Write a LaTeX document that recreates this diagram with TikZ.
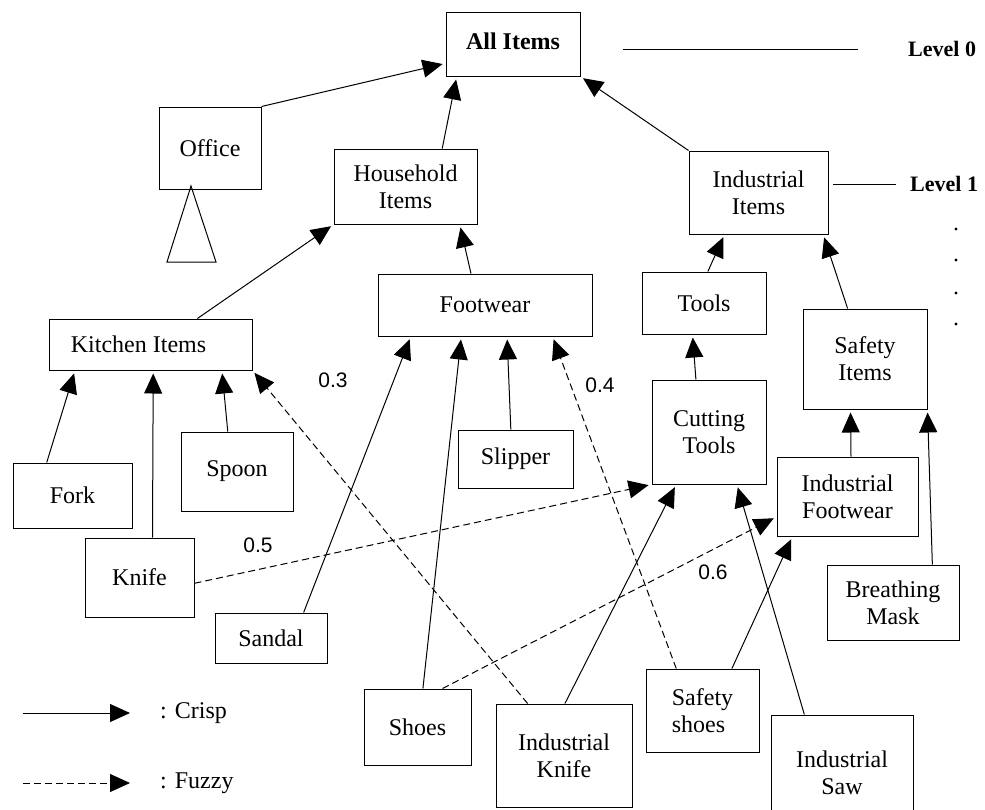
\documentclass[tikz,border=0pt]{standalone}
\usepackage{fontspec}
\setmainfont{Liberation Serif}
\newfontfamily\numfont{Liberation Sans}
\usetikzlibrary{arrows.meta}

\begin{document}
\begin{tikzpicture}[x=1pt, y=-1pt]
	\tikzset{
		itembox/.style={rectangle, draw, line width=1pt, inner sep=2pt, align=center, font=\fontsize{24}{27}\selectfont},
		crisp/.style={line width=1pt, -{Triangle[length=20pt,width=18pt]}, shorten >=3pt},
		fuzzy/.style={crisp, dash pattern=on 7pt off 4pt},
		grade/.style={font=\numfont\fontsize{21}{24}\selectfont},
		levellabel/.style={anchor=west, inner sep=0pt, font=\bfseries\fontsize{22}{26}\selectfont},
		legendlabel/.style={anchor=west, inner sep=0pt, font=\fontsize{24}{27}\selectfont}
	}
	\useasboundingbox (0,0) rectangle (985,809);

	% Level 0 and level 1
	\node[itembox, minimum width=134pt, minimum height=64pt] (allitems) at (513,44) {\raisebox{6pt}{\textbf{All Items}}};
	\node[itembox, minimum width=102pt, minimum height=82pt] (office) at (210,148) {Office};
	\node[itembox, minimum width=143pt, minimum height=75pt] (household) at (405.5,186.5) {Household\\Items};
	\node[itembox, minimum width=139pt, minimum height=83pt] (industrial) at (758.5,192.5) {Industrial\\Items};

	% Sub categories
	\node[itembox, minimum width=214pt, minimum height=62pt] (footwear) at (485,305) {Footwear};
	\node[itembox, minimum width=124pt, minimum height=62pt] (tools) at (704,303) {Tools};
	\node[itembox, minimum width=203pt, minimum height=51pt] (kitchen) at (150.5,344.5) {Kitchen Items\hspace*{24pt}};
	\node[itembox, minimum width=124pt, minimum height=100pt] (safety) at (865,359) {Safety\\Items};
	\node[itembox, minimum width=114pt, minimum height=104pt] (cutting) at (709,432) {Cutting\\Tools};
	\node[itembox, minimum width=141pt, minimum height=79pt] (indfootwear) at (847.5,496.5) {Industrial\\Footwear};

	% Items
	\node[itembox, minimum width=119pt, minimum height=65pt] (fork) at (72.5,495.5) {\raisebox{-9pt}{Fork}};
	\node[itembox, minimum width=112pt, minimum height=79pt] (spoon) at (237,471.5) {Spoon};
	\node[itembox, minimum width=109pt, minimum height=79pt] (knife) at (139.5,577.5) {Knife};
	\node[itembox, minimum width=112pt, minimum height=50pt] (sandal) at (271,638) {Sandal};
	\node[itembox, minimum width=115pt, minimum height=58pt] (slipper) at (515.5,459) {Slipper};
	\node[itembox, minimum width=107pt, minimum height=76pt] (shoes) at (417.5,727) {Shoes};
	\node[itembox, minimum width=136pt, minimum height=103pt] (indknife) at (564,755.5) {Industrial\\Knife};
	\node[itembox, minimum width=113pt, minimum height=83pt, align=left] (safetyshoes) at (702.5,710.5) {Safety\\shoes};
	\node[itembox, minimum width=132pt, minimum height=75pt] (breathing) at (893,602.5) {Breathing\\Mask};
	\node[itembox, minimum width=142pt, minimum height=115pt] (indsaw) at (842,772.5) {Industrial\\Saw};

	% Office subtree
	\draw[line width=1pt] (191,186) -- (216,262) -- (167,262) -- cycle;

	% Crisp links
	\draw[crisp] (office.north east) -- (allitems.196);
	\draw[crisp] (household.46) -- (allitems.210);
	\draw[crisp] (industrial.north west) -- (allitems.south east);
	\draw[crisp] (kitchen.29) -- (household.south west);
	\draw[crisp] (footwear.114) -- (household.325);
	\draw[crisp] (tools.83) -- (industrial.231);
	\draw[crisp] (safety.109) -- (industrial.327);
	\draw[crisp] (fork.128) -- (kitchen.199);
	\draw[crisp] (knife.72) -- (kitchen.276);
	\draw[crisp] (spoon.103) -- (kitchen.340);
	\draw[crisp] (sandal.38) -- (footwear.203);
	\draw[crisp] (shoes.82) -- (footwear.233);
	\draw[crisp] (slipper.99) -- (footwear.305);
	\draw[crisp] (cutting.104) -- (tools.250);
	\draw[crisp] (indfootwear.85) -- (safety.254);
	\draw[crisp] (breathing.44) -- (safety.south east);
	\draw[crisp] (indknife.89) -- (cutting.238);
	\draw[crisp] (safetyshoes.55) -- (indfootwear.216);
	\draw[crisp] (indsaw.123) -- (cutting.298);

	% Fuzzy links
	\draw[fuzzy] (indknife.125) -- (kitchen.south east);
	\draw[fuzzy] (knife.354) -- (cutting.south west);
	\draw[fuzzy] (shoes.57) -- (indfootwear.196);
	\draw[fuzzy] (safetyshoes.122) -- (footwear.335);
	\node[grade] (g03) at (333,380) {0.3};
	\node[grade] (g05) at (258,545) {0.5};
	\node[grade] (g06) at (713,572) {0.6};
	\node[grade] (g04) at (600,385) {0.4};

	% Levels
	\node[levellabel] (level0) at (908,49) {Level 0};
	\node[levellabel] (level1) at (910,184) {Level 1};
	\draw[line width=1pt] (623,49) -- ([xshift=-50pt]level0.west);
	\draw[line width=1pt] (833,184) -- ([xshift=-14pt]level1.west);
	\foreach \y in {229,260,293,324}
		\fill (956,\y) circle (1.6pt);

	% Legend
	\coordinate (crispstart) at (23,713);
	\coordinate (fuzzystart) at (23,783);
	\node[legendlabel] (legcrisp) at (160,713) {: Crisp};
	\node[legendlabel] (legfuzzy) at (160,783) {: Fuzzy};
	\draw[crisp, shorten >=0pt] (crispstart) -- ([xshift=-30pt]legcrisp.west);
	\draw[fuzzy, shorten >=0pt] (fuzzystart) -- ([xshift=-30pt]legfuzzy.west);
\end{tikzpicture}
\end{document}
